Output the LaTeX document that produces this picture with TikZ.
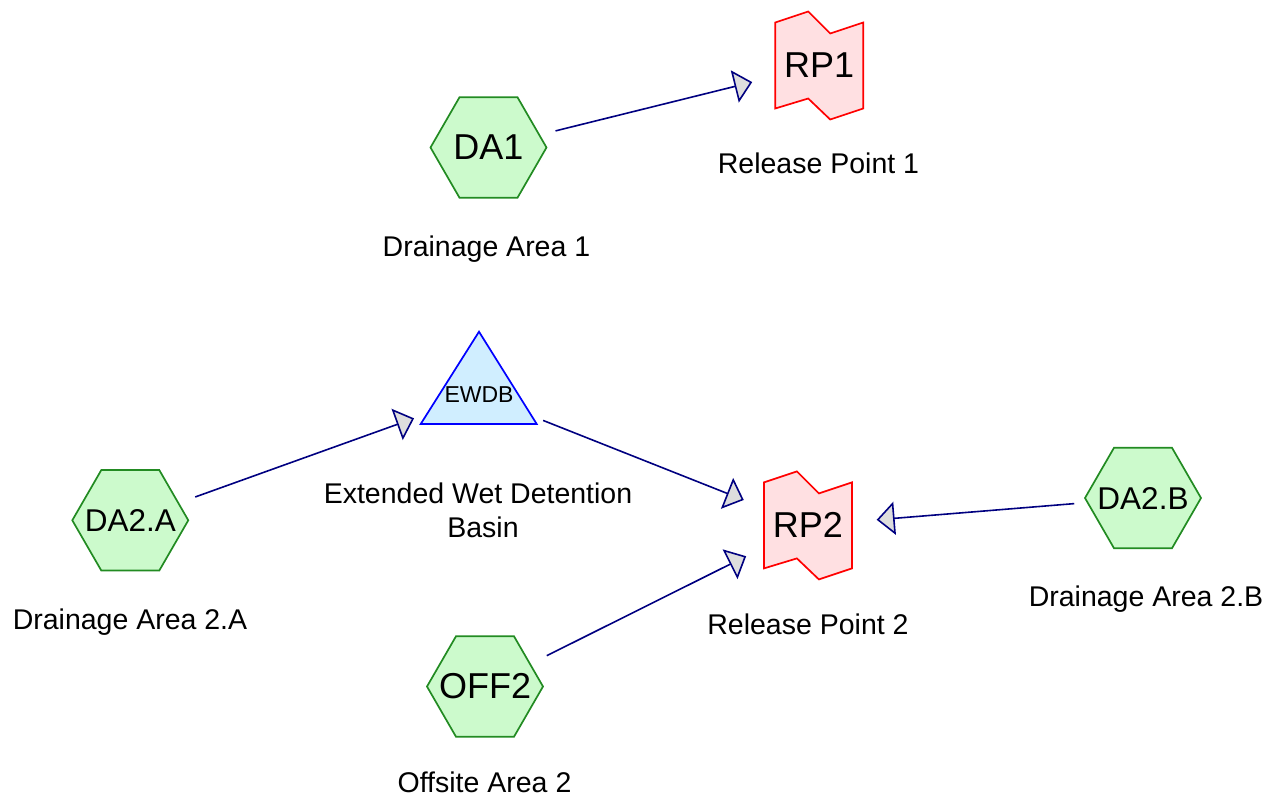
\documentclass[tikz,border=0pt]{standalone}
\usepackage{fontspec}
\setmainfont{Liberation Sans}
\usetikzlibrary{shapes.geometric,arrows.meta}
\definecolor{hexfill}{RGB}{204,250,204}
\definecolor{hexline}{RGB}{34,139,34}
\definecolor{rpfill}{RGB}{255,224,226}
\definecolor{rpline}{RGB}{255,0,0}
\definecolor{trifill}{RGB}{208,238,255}
\definecolor{triline}{RGB}{0,0,255}
\definecolor{connline}{RGB}{0,0,128}
\definecolor{headfill}{RGB}{221,221,221}
\tikzset{
  hexnode/.style={regular polygon, regular polygon sides=6, minimum size=116pt,
    inner sep=0pt, draw=hexline, fill=hexfill, line width=1.7pt},
  hextxt/.style={inner sep=0pt, text=black},
  bigtxt/.style={font=\fontsize{36}{40}\selectfont},
  midtxt/.style={font=\fontsize{31.5}{36}\selectfont},
  lbl/.style={font=\fontsize{28.5}{34}\selectfont, anchor=base, inner sep=0pt, align=center},
  rptxt/.style={inner sep=0pt, font=\fontsize{36}{40}\selectfont},
  conn/.style={draw=connline, line width=1.6pt, shorten <=69pt, shorten >=69pt,
    -{Triangle[length=18pt,width=33pt,fill=headfill]}},
  pics/rpflag/.style={code={
    \draw[draw=rpline, fill=rpfill, line width=1.7pt]
      (-44,-43) -- (-11,-54) -- (11,-32) -- (44,-43) -- (44,43) -- (11,54) -- (-11,33) -- (-44,43) -- cycle;
  }}
}
\begin{document}
\begin{tikzpicture}[x=1pt,y=-1pt]
\useasboundingbox (0,0) rectangle (1278,801);
% hexagons
\node[hexnode] (da1) at (488.5,147.5) {};
\node[hextxt, bigtxt] (t-da1) at (da1.center) {DA1};
\node[hexnode] (da2a) at (130.3,520.3) {};
\node[hextxt, midtxt] (t-da2a) at (da2a.center) {DA2.A};
\node[hexnode] (da2b) at (1143,498) {};
\node[hextxt, midtxt] (t-da2b) at (da2b.center) {DA2.B};
\node[hexnode] (off2) at (485,686.5) {};
\node[hextxt, bigtxt] (t-off2) at (off2.center) {OFF2};
% release points
\pic at (819.2,65.5) {rpflag};
\node[rptxt] (rp1) at (819.2,65.5) {RP1};
\pic at (807.9,525.4) {rpflag};
\node[rptxt] (rp2) at (807.9,525.4) {RP2};
% basin
\draw[draw=triline, fill=trifill, line width=1.7pt] (479,331.7) -- (536.7,424) -- (420.7,424) -- cycle;
\node[inner sep=0pt, font=\fontsize{23}{28}\selectfont] (ewdb) at (479,395) {EWDB};
% labels
\node[lbl] (l-da1) at (486.5,256) {Drainage Area 1};
\node[lbl] (l-rp1) at (818.5,173) {Release Point 1};
\node[lbl] (l-ewdb1) at (478,503) {Extended Wet Detention};
\node[lbl] (l-ewdb2) at (483,537) {Basin};
\node[lbl] (l-da2a) at (130,629) {Drainage Area 2.A};
\node[lbl] (l-rp2) at (808,634) {Release Point 2};
\node[lbl] (l-da2b) at (1146,606) {Drainage Area 2.B};
\node[lbl] (l-off2) at (484.5,792) {Offsite Area 2};
% connectors
\draw[conn] (da1.center) -- (rp1.center);
\draw[conn] (da2a.center) -- (ewdb.center);
\draw[conn] (ewdb.center) -- (rp2.center);
\draw[conn] (off2.center) -- (rp2.center);
\draw[conn] (da2b.center) -- (rp2.center);
\end{tikzpicture}
\end{document}
